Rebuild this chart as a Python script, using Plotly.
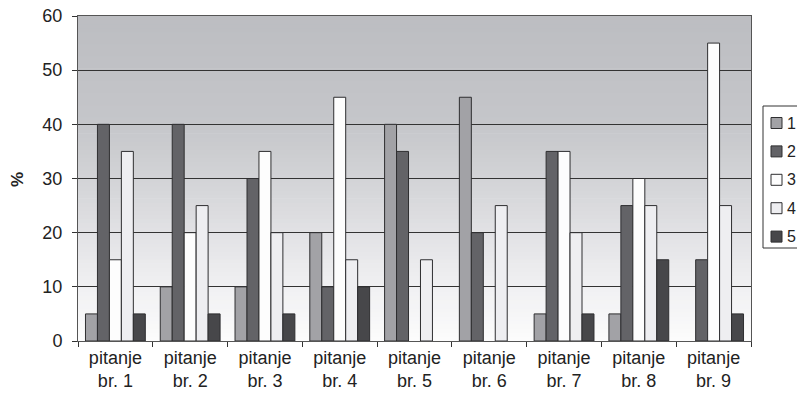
import plotly.graph_objects as go

categories = ["pitanje<br>br. 1", "pitanje<br>br. 2", "pitanje<br>br. 3", "pitanje<br>br. 4",
              "pitanje<br>br. 5", "pitanje<br>br. 6", "pitanje<br>br. 7", "pitanje<br>br. 8",
              "pitanje<br>br. 9"]
series_names = ["1", "2", "3", "4", "5"]
s1 = [5, 10, 10, 20, 40, 45, 5, 5, 0]
s2 = [40, 40, 30, 10, 35, 20, 35, 25, 15]
s3 = [15, 20, 35, 45, 0, 0, 35, 30, 55]
s4 = [35, 25, 20, 15, 15, 25, 20, 25, 25]
s5 = [5, 5, 5, 10, 0, 0, 5, 15, 5]
series_values = [s1, s2, s3, s4, s5]
colors = ["#a2a2a6", "#636367", "#fdfdfd", "#eeeef1", "#47474a"]

W, H = 797, 402
L, R, T, B = 78, 46, 16, 61
PW, PH = W - L - R, H - T - B


def px_x(px):
    return (px - L) / PW


def px_y(py):
    return (H - B - py) / PH


fig = go.Figure()
for i, (name, vals) in enumerate(zip(series_names, series_values)):
    shown = [v if v != 0 else None for v in vals]
    fig.add_trace(go.Bar(
        x=categories, y=shown, name=name, showlegend=False,
        marker=dict(color=colors[i], line=dict(color="#2e2e30", width=1)),
    ))

# vertical gradient background (gray top -> white bottom)
stops = [(0.0, (252, 252, 252)), (0.17, (240, 240, 242)), (0.33, (226, 226, 229)),
         (0.5, (210, 211, 214)), (0.67, (197, 198, 202)), (1.0, (188, 189, 193))]
n = 80
shapes = []
for k in range(n):
    t = (k + 0.5) / n
    for j in range(len(stops) - 1):
        if stops[j][0] <= t <= stops[j + 1][0]:
            a, ca = stops[j]
            b, cb = stops[j + 1]
            f = (t - a) / (b - a)
            c = tuple(int(round(ca[m] + (cb[m] - ca[m]) * f)) for m in range(3))
            break
    shapes.append(dict(type="rect", xref="x domain", yref="y domain",
                       x0=0, x1=1, y0=k / n, y1=(k + 1) / n + 0.002,
                       fillcolor="rgb(%d,%d,%d)" % c, line=dict(width=0), layer="below"))

# legend box (drawn by hand to match the original's compact layout)
annotations = []
shapes.append(dict(type="rect", xref="paper", yref="paper",
                   x0=px_x(763), x1=px_x(810), y0=px_y(248), y1=px_y(106),
                   fillcolor="white", line=dict(color="#333333", width=1), layer="above"))
for i, name in enumerate(series_names):
    cy = 123 + 28.4 * i
    shapes.append(dict(type="rect", xref="paper", yref="paper",
                       x0=px_x(771), x1=px_x(782), y0=px_y(cy + 5.5), y1=px_y(cy - 5.5),
                       fillcolor=colors[i], line=dict(color="#2e2e30", width=1), layer="above"))
    annotations.append(dict(xref="paper", yref="paper", x=px_x(785), y=px_y(cy),
                            xanchor="left", yanchor="middle", text=name, showarrow=False,
                            font=dict(size=16, color="#222222")))

annotations.append(dict(xref="paper", yref="paper", x=px_x(17), y=px_y(180),
                        xanchor="center", yanchor="middle", text="<b>%</b>", textangle=-90,
                        showarrow=False, font=dict(size=17, color="#222222")))

fig.update_layout(
    width=W, height=H,
    margin=dict(l=L, r=R, t=T, b=B, autoexpand=False),
    paper_bgcolor="white", plot_bgcolor="white",
    font=dict(family="Liberation Sans, Arial, sans-serif", color="#222222", size=15),
    barmode="group", bargap=0.2, bargroupgap=0,
    shapes=shapes, annotations=annotations,
    showlegend=False,
)
fig.update_yaxes(range=[0, 60], dtick=10, showgrid=True, gridcolor="#333333", gridwidth=1,
                 ticks="outside", ticklen=5, tickcolor="#333333",
                 showline=True, linecolor="#555555", mirror=True, zeroline=False,
                 tickfont=dict(size=18), automargin=False, ticklabelstandoff=6,
                 ticklabeloverflow="allow")
fig.update_xaxes(tickson="boundaries", ticks="outside", ticklen=5, tickcolor="#333333",
                 showline=True, linecolor="#555555", mirror=True, showgrid=False,
                 tickfont=dict(size=18), automargin=False, ticklabeloverflow="allow")

fig.write_html("out.html", config={"displayModeBar": False},
               post_script="document.body.style.margin='0';document.body.style.overflow='hidden';")
